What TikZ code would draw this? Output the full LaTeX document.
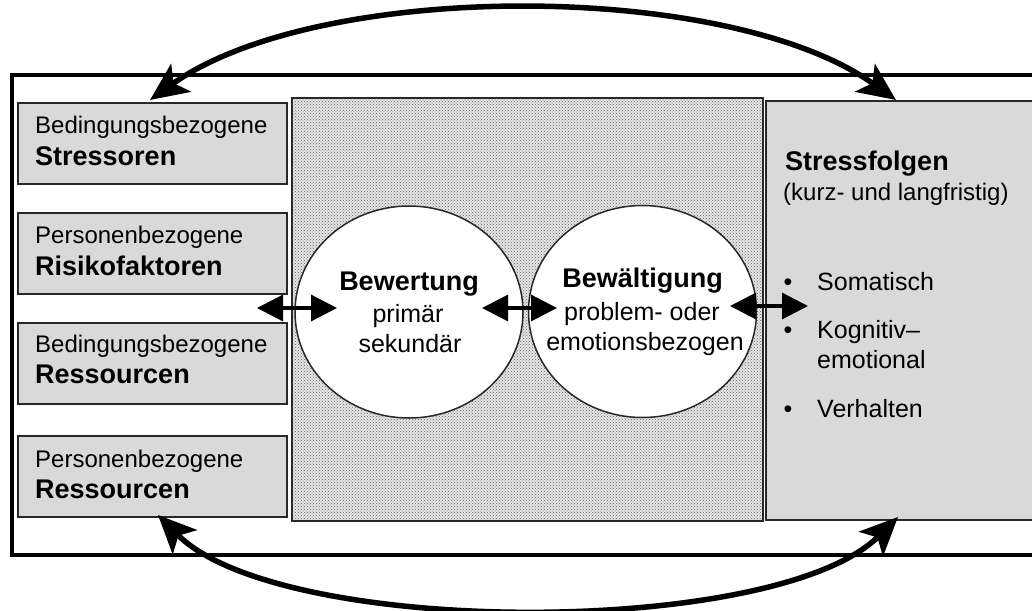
\documentclass[tikz,border=0pt]{standalone}
\usepackage{fontspec}
\setmainfont{Liberation Sans}
\usetikzlibrary{arrows.meta,shapes.geometric,patterns,calc}

\definecolor{boxgray}{RGB}{217,217,217}
\definecolor{edge}{RGB}{40,40,40}

\tikzset{
  sidebox/.style={rectangle, draw=edge, line width=2pt, fill=boxgray,
    inner sep=0pt, minimum width=269pt, minimum height=81pt, anchor=north west},
  regtext/.style={anchor=base west, inner sep=0pt, font=\fontsize{24}{28}\selectfont},
  boldtext/.style={anchor=base west, inner sep=0pt, font=\fontsize{27}{30}\selectfont\bfseries},
  circtext/.style={anchor=base, inner sep=0pt, font=\fontsize{25}{30}\selectfont},
  circbold/.style={anchor=base, inner sep=0pt, font=\fontsize{27}{30}\selectfont\bfseries},
  listtext/.style={anchor=base west, inner sep=0pt, font=\fontsize{25}{30}\selectfont},
  phase/.style={ellipse, draw=edge, line width=1.5pt, fill=white, inner sep=0pt,
    minimum width=228pt, minimum height=212pt},
  dblarrow/.style={line width=3.2pt,
    {Triangle[length=26pt,width=26pt]}-{Triangle[length=26pt,width=26pt]}},
  loop/.style={line width=5.5pt,
    {Stealth[length=38pt,width=34pt,inset=9pt]}-{Stealth[length=38pt,width=34pt,inset=9pt]}},
}

\begin{document}
\begin{tikzpicture}[x=1pt,y=-1pt]
\useasboundingbox (0,0) rectangle (1032,610);
\clip (0,0) rectangle (1032,610);

% outer frame (runs past the right edge)
\node[rectangle, draw=black, line width=3.5pt, inner sep=0pt, anchor=north west,
  minimum width=1040pt, minimum height=480pt] (frame) at (10,73) {};

% central patterned area
\node[rectangle, draw=edge, line width=1.5pt, inner sep=0pt, anchor=north west,
  minimum width=471pt, minimum height=423pt,
  preaction={fill=black!10}, pattern=crosshatch dots, pattern color=black!60] (mid) at (291,97) {};

% consequences panel
\node[rectangle, draw=edge, line width=1.5pt, fill=boxgray, inner sep=0pt, anchor=north west,
  minimum width=290pt, minimum height=419pt] (conseq) at (765,100) {};

% left column
\node[sidebox] (b1) at (17,102) {};
\node[sidebox] (b2) at (17,212) {};
\node[sidebox] (b3) at (17,322) {};
\node[sidebox] (b4) at (17,435) {};

\node[regtext]  (b1a) at (35,133) {Bedingungsbezogene};
\node[boldtext] (b1b) at (35,165) {Stressoren};
\node[regtext]  (b2a) at (35,243) {Personenbezogene};
\node[boldtext] (b2b) at (35,275) {Risikofaktoren};
\node[regtext]  (b3a) at (35,352) {Bedingungsbezogene};
\node[boldtext] (b3b) at (35,383) {Ressourcen};
\node[regtext]  (b4a) at (35,467) {Personenbezogene};
\node[boldtext] (b4b) at (35,498) {Ressourcen};

% appraisal and coping
\node[phase] (bew) at (409,312) {};
\node[phase] (bewa) at (642.5,311.5) {};

\node[circbold] (bew1) at (409,290) {Bewertung};
\node[circtext] (bew2) at (408,322) {primär};
\node[circtext] (bew3) at (410,352) {sekundär};

\node[circbold] (bewa1) at (642.5,287) {Bewältigung};
\node[circtext] (bewa2) at (642,320) {problem- oder};
\node[circtext] (bewa3) at (645,350) {emotionsbezogen};

% consequences text
\node[boldtext] (sf1) at (785,170) {Stressfolgen};
\node[regtext]  (sf2) at (783,200) {(kurz- und langfristig)};
\node[circtext] (d1) at (788,290) {•};
\node[listtext] (s1) at (817,290) {Somatisch};
\node[circtext] (d2) at (788,338) {•};
\node[listtext] (s2) at (817,338) {Kognitiv–};
\node[listtext] (s3) at (817,368) {emotional};
\node[circtext] (d3) at (788,417) {•};
\node[listtext] (s4) at (817,417) {Verhalten};

% connector ends
\coordinate (l1) at (257,308);
\coordinate (l2) at (337,308);
\coordinate (m1) at (482,308);
\coordinate (m2) at (557,308);
\coordinate (r1) at (730,306);
\coordinate (r2) at (808,306);
\coordinate (tl) at (150,100);
\coordinate (tr) at (896,100);
\coordinate (bl) at (158,515);
\coordinate (br) at (898,517);

\draw[dblarrow] (l1) -- (l2);
\draw[dblarrow] (m1) -- (m2);
\draw[dblarrow] (r1) -- (r2);

% feedback loops
\draw[loop] (tl) .. controls (318,-20) and (728,-20) .. (tr);
\draw[loop] (bl) .. controls (280,638) and (776,638) .. (br);
\end{tikzpicture}
\end{document}
